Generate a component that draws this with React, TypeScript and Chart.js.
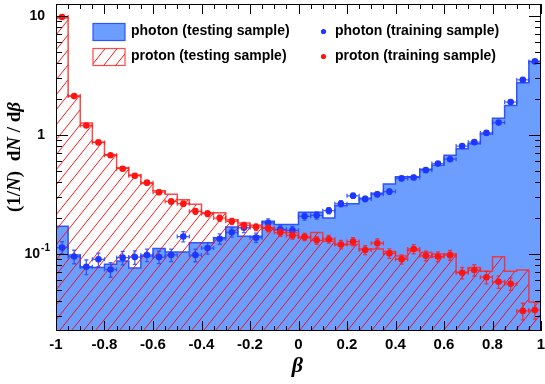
import React, { useEffect, useRef } from "react";
import { Chart, registerables } from "chart.js";

Chart.register(...registerables);

// ---------- data ----------
const binLow = [
  -1, -0.95, -0.9, -0.85, -0.8, -0.75, -0.7, -0.65, -0.6, -0.55,
  -0.5, -0.45, -0.4, -0.35, -0.3, -0.25, -0.2, -0.15, -0.1, -0.05,
  0, 0.05, 0.1, 0.15, 0.2, 0.25, 0.3, 0.35, 0.4, 0.45,
  0.5, 0.55, 0.6, 0.65, 0.7, 0.75, 0.8, 0.85, 0.9, 0.95,
];
const binWidth = 0.05;

const photonTesting = [
  0.171, 0.098, 0.077, 0.077, 0.082, 0.087, 0.076, 0.096, 0.111, 0.104,
  0.104, 0.124, 0.124, 0.137, 0.168, 0.141, 0.141, 0.188, 0.177, 0.177,
  0.224, 0.224, 0.2, 0.254, 0.264, 0.294, 0.324, 0.387, 0.445, 0.445,
  0.515, 0.557, 0.674, 0.765, 0.842, 1.02, 1.38, 1.77, 2.74, 4.15,
];
const protonTesting = [
  9.6, 2.12, 1.26, 0.87, 0.68, 0.53, 0.46, 0.39, 0.34, 0.318,
  0.285, 0.262, 0.222, 0.222, 0.194, 0.182, 0.174, 0.166, 0.158, 0.151,
  0.137, 0.151, 0.128, 0.12, 0.12, 0.11, 0.11, 0.105, 0.096, 0.107,
  0.103, 0.1, 0.1, 0.07, 0.077, 0.0716, 0.0945, 0.0716, 0.0732, 0.0395,
];
const photonTraining = [
  0.113, 0.095, 0.078, 0.09, 0.074, 0.093, 0.094, 0.098, 0.094, 0.098,
  0.14, 0.0977, 0.112, 0.134, 0.152, 0.166, 0.137, 0.182, 0.161, 0.158,
  0.207, 0.211, 0.231, 0.264, 0.308, 0.29, 0.317, 0.334, 0.431, 0.439,
  0.506, 0.574, 0.625, 0.806, 0.87, 1.04, 1.27, 1.89, 2.9, 4.15,
];
const protonTraining = [
  9.8, 2.12, 1.2, 0.865, 0.675, 0.52, 0.454, 0.397, 0.33, 0.276,
  0.264, 0.228, 0.218, 0.2, 0.188, 0.174, 0.168, 0.164, 0.151, 0.143,
  0.139, 0.13, 0.133, 0.12, 0.127, 0.108, 0.123, 0.101, 0.0902, 0.11,
  0.0964, 0.0951, 0.0976, 0.0693, 0.0732, 0.0637, 0.0583, 0.0561, 0.0332, 0.0337,
];
// relative statistical errors of the training points
const photonTrainingErr = [
  0.12, 0.13, 0.14, 0.13, 0.14, 0.13, 0.13, 0.12, 0.12, 0.12,
  0.1, 0.12, 0.11, 0.1, 0.09, 0.09, 0.09, 0.08, 0.08, 0.08,
  0.07, 0.07, 0.06, 0.06, 0.05, 0.05, 0.05, 0.05, 0.04, 0.04,
  0.04, 0.035, 0.03, 0.03, 0.03, 0.025, 0.02, 0.02, 0.015, 0.01,
];
const protonTrainingErr = [
  0.01, 0.02, 0.025, 0.03, 0.03, 0.035, 0.04, 0.04, 0.045, 0.05,
  0.05, 0.055, 0.055, 0.06, 0.06, 0.06, 0.065, 0.065, 0.07, 0.07,
  0.07, 0.075, 0.075, 0.08, 0.08, 0.085, 0.085, 0.09, 0.09, 0.09,
  0.095, 0.095, 0.095, 0.11, 0.11, 0.12, 0.12, 0.12, 0.16, 0.16,
];

const xMajorTicks = [-1, -0.8, -0.6, -0.4, -0.2, 0, 0.2, 0.4, 0.6, 0.8, 1];
const xTickLabels = ["-1", "-0.8", "-0.6", "-0.4", "-0.2", "0", "0.2", "0.4", "0.6", "0.8", "1"];
const yMajorTicks = [10, 1, 0.1];
const yTickBase = ["10", "1", "10"];
const yTickExp = ["", "", "-1"];
const yMinorTicks = [
  0.03, 0.04, 0.05, 0.06, 0.07, 0.08, 0.09,
  0.2, 0.3, 0.4, 0.5, 0.6, 0.7, 0.8, 0.9,
  2, 3, 4, 5, 6, 7, 8, 9,
];
const legendLabels = [
  "photon (testing sample)",
  "proton (testing sample)",
  "photon (training sample)",
  "proton (training sample)",
];
const yTitleParts = [
  ["(1/", false], ["N", true], [")", false], ["  d", false], ["N", true], [" / d", false], ["\u03b2", true],
] as [string, boolean][];
const xTitle = "\u03b2";

// ---------- styles ----------
const BLUE_FILL = "rgb(108,158,255)";
const BLUE_LINE = "rgb(45,85,255)";
const BLUE_PT = "rgb(30,55,255)";
const RED = "rgb(255,20,20)";
const RED_LINE = "rgba(255,40,40,0.85)";
const SANS = '"Liberation Sans", Arial, sans-serif';
const SERIF = '"Liberation Serif", "Times New Roman", serif';

function makeHatch(): CanvasPattern | string {
  const W = 12, H = 15;
  const c = document.createElement("canvas");
  c.width = W; c.height = H;
  const g = c.getContext("2d");
  if (!g) return "rgba(0,0,0,0)";
  g.strokeStyle = "rgba(255,0,0,0.9)";
  g.lineWidth = 1;
  for (const off of [-W, 0, W]) {
    g.beginPath();
    g.moveTo(off, H);
    g.lineTo(off + W, 0);
    g.stroke();
  }
  const pat = g.createPattern(c, "repeat");
  return pat || "rgba(255,0,0,0.3)";
}

function histData(vals: number[]) {
  const pts = binLow.map((x, i) => ({ x, y: vals[i] }));
  pts.push({ x: binLow[binLow.length - 1] + binWidth, y: vals[vals.length - 1] });
  return pts;
}
function pointData(vals: number[]) {
  return binLow.map((x, i) => ({ x: x + binWidth / 2, y: vals[i] }));
}

const errorBarPlugin = {
  id: "errorBars",
  beforeDatasetDraw(chart: any, args: any) {
    const ds = chart.data.datasets[args.index];
    if (!ds.errs) return;
    const { ctx, chartArea: a, scales } = chart;
    const xs = scales.x, ys = scales.y;
    ctx.save();
    ctx.beginPath();
    ctx.rect(a.left, a.top, a.right - a.left, a.bottom - a.top);
    ctx.clip();
    ctx.strokeStyle = ds.errColor;
    ctx.lineWidth = 1.3;
    const cap = 2;
    ds.data.forEach((p: any, i: number) => {
      const e = ds.errs[i] * p.y;
      const px = xs.getPixelForValue(p.x);
      const py = ys.getPixelForValue(p.y);
      const xl = xs.getPixelForValue(p.x - binWidth / 2);
      const xr = xs.getPixelForValue(p.x + binWidth / 2);
      const yt = ys.getPixelForValue(p.y + e);
      const yb = ys.getPixelForValue(p.y - e);
      ctx.beginPath();
      ctx.moveTo(xl, py); ctx.lineTo(xr, py);
      ctx.moveTo(xl, py - cap); ctx.lineTo(xl, py + cap);
      ctx.moveTo(xr, py - cap); ctx.lineTo(xr, py + cap);
      ctx.moveTo(px, yt); ctx.lineTo(px, yb);
      ctx.moveTo(px - cap, yt); ctx.lineTo(px + cap, yt);
      ctx.moveTo(px - cap, yb); ctx.lineTo(px + cap, yb);
      ctx.stroke();
    });
    ctx.restore();
  },
};

function makeFramePlugin(hatch: CanvasPattern | string) {
  return {
    id: "rootFrame",
    afterDraw(chart: any) {
      const { ctx, chartArea: a, scales } = chart;
      const xs = scales.x, ys = scales.y;
      ctx.save();
      // frame
      ctx.strokeStyle = "#000";
      ctx.lineWidth = 1;
      ctx.strokeRect(a.left + 0.5, a.top + 0.5, a.right - a.left - 1, a.bottom - a.top - 1);

      // x ticks
      ctx.beginPath();
      const xMinor = binLow.concat([1]);
      xMinor.forEach((v) => {
        const px = Math.round(xs.getPixelForValue(v)) + 0.5;
        ctx.moveTo(px, a.bottom); ctx.lineTo(px, a.bottom - 5);
        ctx.moveTo(px, a.top); ctx.lineTo(px, a.top + 5);
      });
      xMajorTicks.forEach((v) => {
        const px = Math.round(xs.getPixelForValue(v)) + 0.5;
        ctx.moveTo(px, a.bottom); ctx.lineTo(px, a.bottom - 10);
        ctx.moveTo(px, a.top); ctx.lineTo(px, a.top + 10);
      });
      // y ticks
      yMinorTicks.forEach((v) => {
        const py = Math.round(ys.getPixelForValue(v)) + 0.5;
        ctx.moveTo(a.left, py); ctx.lineTo(a.left + 6, py);
        ctx.moveTo(a.right, py); ctx.lineTo(a.right - 6, py);
      });
      yMajorTicks.forEach((v) => {
        const py = Math.round(ys.getPixelForValue(v)) + 0.5;
        ctx.moveTo(a.left, py); ctx.lineTo(a.left + 12, py);
        ctx.moveTo(a.right, py); ctx.lineTo(a.right - 12, py);
      });
      ctx.stroke();

      // x tick labels
      ctx.fillStyle = "#000";
      ctx.font = `bold 15px ${SANS}`;
      ctx.textAlign = "center";
      ctx.textBaseline = "middle";
      xMajorTicks.forEach((v, i) => {
        ctx.fillText(xTickLabels[i], xs.getPixelForValue(v), a.bottom + 14);
      });
      // y tick labels
      yMajorTicks.forEach((v, i) => {
        const py = ys.getPixelForValue(v);
        ctx.font = `bold 14px ${SANS}`;
        ctx.textAlign = "right";
        ctx.textBaseline = "middle";
        if (yTickExp[i]) {
          ctx.font = `bold 10px ${SANS}`;
          const ew = ctx.measureText(yTickExp[i]).width;
          ctx.textAlign = "left";
          ctx.fillText(yTickExp[i], a.left - 6 - ew, py - 6);
          ctx.font = `bold 14px ${SANS}`;
          ctx.textAlign = "right";
          ctx.fillText(yTickBase[i], a.left - 7 - ew, py);
        } else {
          ctx.fillText(yTickBase[i], a.left - 11, py);
        }
      });

      // x title
      ctx.font = `italic bold 22px ${SERIF}`;
      ctx.textAlign = "center";
      ctx.textBaseline = "middle";
      ctx.fillText(xTitle, xs.getPixelForValue(0) - 1, a.bottom + 35);

      // y title
      ctx.save();
      ctx.translate(15, 157);
      ctx.rotate(-Math.PI / 2);
      ctx.textBaseline = "middle";
      ctx.textAlign = "left";
      const fontFor = (it: boolean) => `${it ? "italic " : ""}bold 19px ${SERIF}`;
      let total = 0;
      yTitleParts.forEach(([t, it]) => {
        ctx.font = fontFor(it);
        total += ctx.measureText(t).width;
      });
      let cx = -total / 2;
      yTitleParts.forEach(([t, it]) => {
        ctx.font = fontFor(it);
        ctx.fillText(t, cx, 0);
        cx += ctx.measureText(t).width;
      });
      ctx.restore();

      // legend
      ctx.font = `bold 14px ${SANS}`;
      ctx.textAlign = "left";
      ctx.textBaseline = "middle";
      ctx.fillStyle = BLUE_FILL;
      ctx.fillRect(93, 23.5, 32, 17);
      ctx.strokeStyle = BLUE_LINE;
      ctx.lineWidth = 1.2;
      ctx.strokeRect(93, 23.5, 32, 17);
      ctx.fillStyle = hatch as any;
      ctx.fillRect(93, 48.5, 32, 17);
      ctx.strokeStyle = RED_LINE;
      ctx.strokeRect(93, 48.5, 32, 17);
      ctx.fillStyle = "#000";
      ctx.fillText(legendLabels[0], 131, 31.5);
      ctx.fillText(legendLabels[1], 131, 56.5);
      ctx.fillStyle = BLUE_PT;
      ctx.beginPath(); ctx.arc(323.5, 31.5, 2.6, 0, Math.PI * 2); ctx.fill();
      ctx.fillStyle = RED;
      ctx.beginPath(); ctx.arc(323.5, 56.5, 2.6, 0, Math.PI * 2); ctx.fill();
      ctx.fillStyle = "#000";
      ctx.fillText(legendLabels[2], 335, 31.5);
      ctx.fillText(legendLabels[3], 335, 56.5);
      ctx.restore();
    },
  };
}

export default function App() {
  const ref = useRef<HTMLCanvasElement | null>(null);
  useEffect(() => {
    document.body.style.margin = "0";
    const canvas = ref.current;
    if (!canvas) return;
    const hatch = makeHatch();
    const chart = new Chart(canvas, {
      type: "line",
      data: {
        datasets: [
          {
            type: "line",
            label: legendLabels[0],
            data: histData(photonTesting),
            stepped: true,
            fill: "start",
            backgroundColor: BLUE_FILL,
            borderColor: BLUE_LINE,
            borderWidth: 1.5,
            pointRadius: 0,
            order: 4,
          } as any,
          {
            type: "line",
            label: legendLabels[1],
            data: histData(protonTesting),
            stepped: true,
            fill: "start",
            backgroundColor: hatch as any,
            borderColor: RED_LINE,
            borderWidth: 1.5,
            pointRadius: 0,
            order: 3,
          } as any,
          {
            type: "scatter",
            label: legendLabels[2],
            data: pointData(photonTraining),
            pointRadius: 3.3,
            pointBackgroundColor: BLUE_PT,
            pointBorderWidth: 0,
            borderColor: BLUE_PT,
            errs: photonTrainingErr,
            errColor: "rgba(40,70,255,0.85)",
            order: 2,
          } as any,
          {
            type: "scatter",
            label: legendLabels[3],
            data: pointData(protonTraining),
            pointRadius: 3.3,
            pointBackgroundColor: RED,
            pointBorderWidth: 0,
            borderColor: RED,
            errs: protonTrainingErr,
            errColor: "rgba(255,30,30,0.85)",
            order: 1,
          } as any,
        ],
      },
      options: {
        animation: false,
        responsive: false,
        devicePixelRatio: 1,
        layout: { padding: { left: 56, top: 1, right: 4, bottom: 53 } },
        plugins: { legend: { display: false }, tooltip: { enabled: false }, title: { display: false } },
        scales: {
          x: { type: "linear", min: -1, max: 1, display: false, bounds: "data" },
          y: { type: "logarithmic", min: 0.0225, max: 12.6, display: false, bounds: "data" },
        },
      } as any,
      plugins: [errorBarPlugin, makeFramePlugin(hatch)],
    });
    return () => chart.destroy();
  }, []);
  return (
    <div style={{ position: "absolute", left: 0, top: 0, width: 545, height: 384, background: "#fff" }}>
      <canvas ref={ref} width={545} height={384} style={{ display: "block" }} />
    </div>
  );
}
